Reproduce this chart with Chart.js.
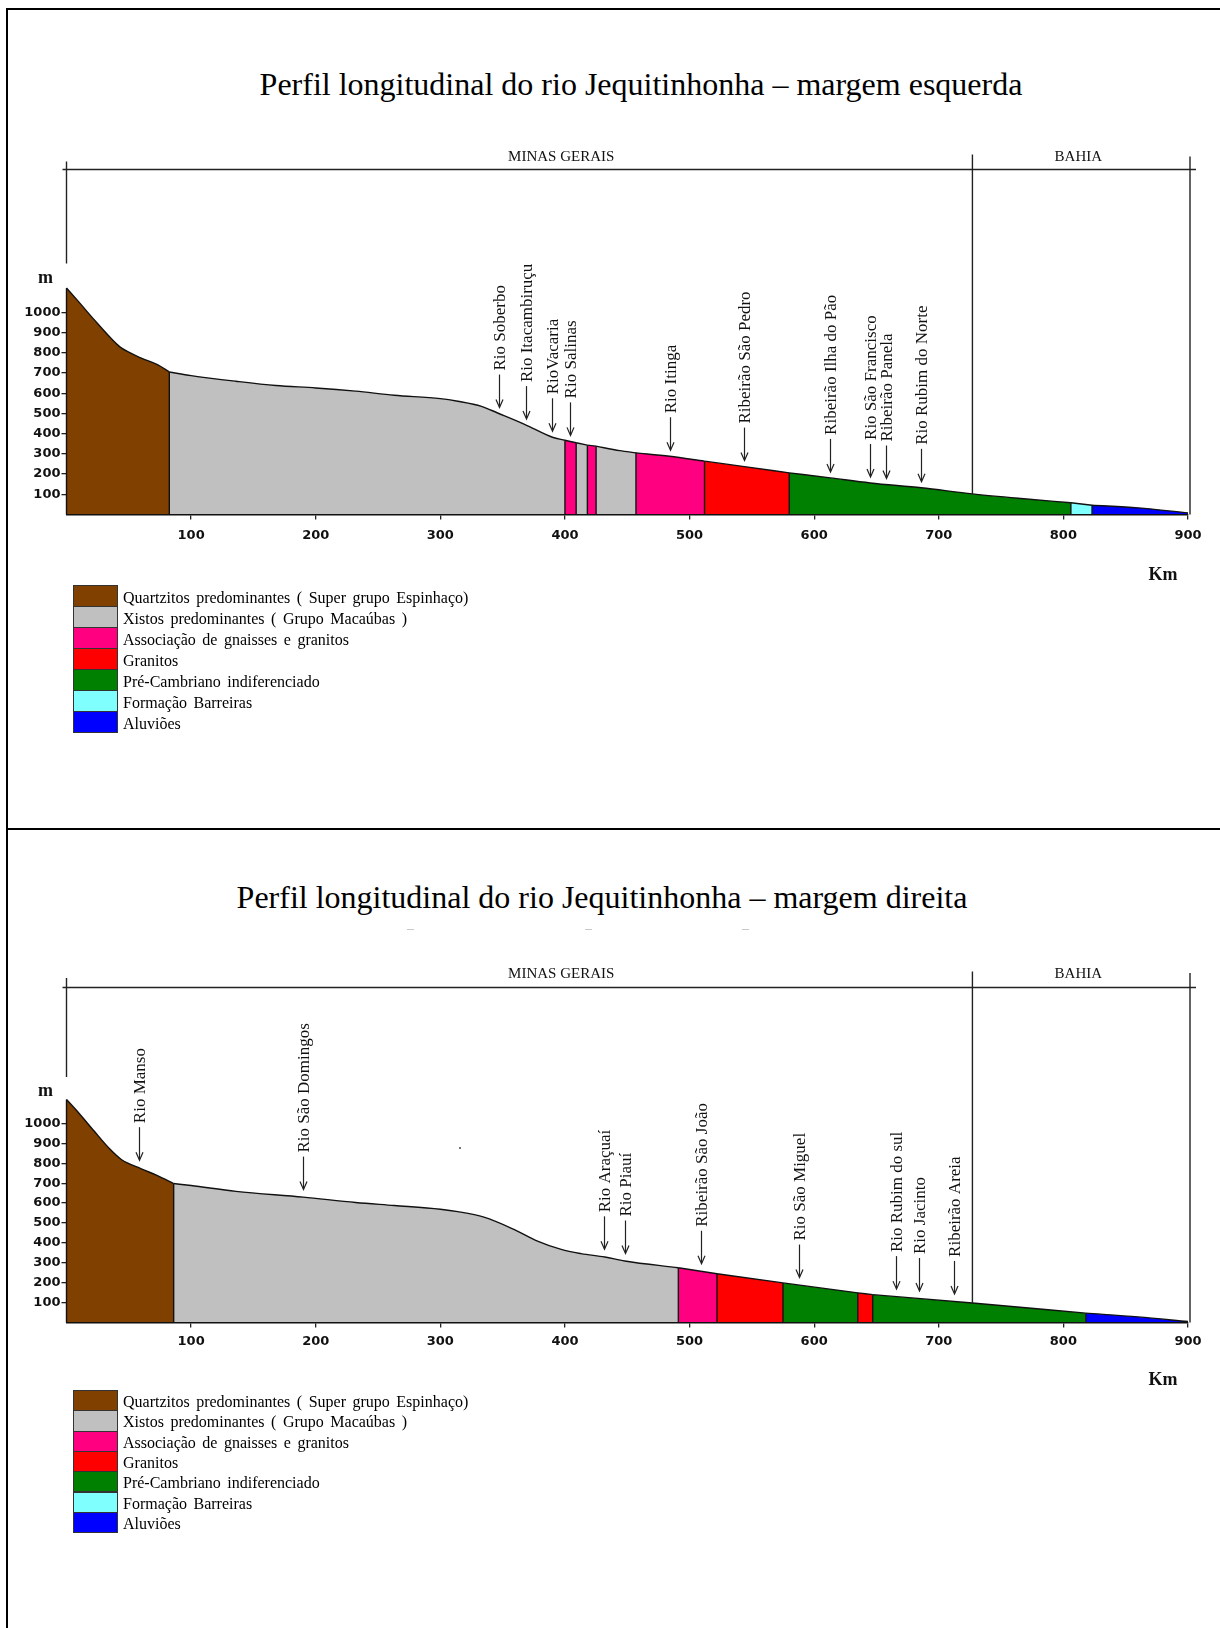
<!DOCTYPE html>
<html lang="pt">
<head>
<meta charset="utf-8">
<title>Perfil longitudinal do rio Jequitinhonha</title>
<script src="https://cdn.jsdelivr.net/npm/chart.js@4.4.1/dist/chart.umd.min.js"></script>
<style>
    html, body { margin: 0; padding: 0; background: #fff; }
    body { position: relative; width: 1220px; height: 1628px; overflow: hidden; font-family: "Liberation Serif", "Times New Roman", serif; color: #000; }
    .rule { position: absolute; background: #000; }
    .title { position: absolute; font-size: 32px; line-height: 32px; white-space: nowrap; transform: translateX(-50%); }
    canvas { position: absolute; left: 0; }
    .legend { position: absolute; left: 73px; }
    .legend-box { position: absolute; left: 0; width: 45px; box-sizing: border-box; border: 1px solid #333; }
    .legend-label { position: absolute; left: 50px; font-size: 16px; word-spacing: 2.5px; white-space: nowrap; display: flex; align-items: center; }
    .speck { position: absolute; background: #c8c8c8; }
</style>
</head>
<body>
<div class="rule" style="left:6px; top:8px; width:1214px; height:2px;"></div>
<div class="rule" style="left:6px; top:8px; width:2px; height:1620px;"></div>
<div class="rule" style="left:6px; top:828px; width:1214px; height:2px;"></div>

<div class="title" style="left:641px; top:68px;">Perfil longitudinal do rio Jequitinhonha – margem esquerda</div>
<div class="title" style="left:602px; top:881px;">Perfil longitudinal do rio Jequitinhonha – margem direita</div>
<div class="speck" style="left:407px; top:929px; width:7px; height:1px;"></div>
<div class="speck" style="left:585px; top:929px; width:7px; height:1px;"></div>
<div class="speck" style="left:742px; top:929px; width:7px; height:1px;"></div>
<div class="speck" style="left:459px; top:1147px; width:2px; height:2px; background:#777;"></div>

<canvas id="chartLeft" width="1220" height="450" style="top:140px;"></canvas>
<canvas id="chartRight" width="1220" height="440" style="top:960px;"></canvas>

<div class="legend" id="legendLeft" style="top:585px;"></div>
<div class="legend" id="legendRight" style="top:1390px;"></div>

<script>
const kmTicks = [100, 200, 300, 400, 500, 600, 700, 800, 900];
const elevTicks = [100, 200, 300, 400, 500, 600, 700, 800, 900, 1000];

const unitNames = [
    'Quartzitos predominantes ( Super grupo Espinhaço)',
    'Xistos predominantes ( Grupo Macaúbas )',
    'Associação de gnaisses e granitos',
    'Granitos',
    'Pré-Cambriano indiferenciado',
    'Formação Barreiras',
    'Aluviões'
];
const unitColors = ['#804000', '#C0C0C0', '#FF0080', '#FF0000', '#008000', '#80FFFF', '#0000FF'];

// margem esquerda
const leftKm = [0, 9.5, 22, 38, 44, 60, 73, 82.5, 100, 136, 168, 200, 232, 263, 300, 314, 333, 346, 368, 390,
    400, 409, 418, 425, 444, 457, 484, 512, 544, 580, 613, 645, 686, 727, 766, 806, 823, 860, 900];
const leftElev = [1120, 1054, 965, 857, 824, 774, 741, 705, 687, 659, 638, 626, 610, 590, 573, 560, 535, 502, 445, 382,
    367, 355, 343, 338, 316, 305, 288, 264, 237, 206, 181, 156, 132, 102, 79, 58, 46, 33, 8];
const leftBounds = [0, 82.5, 400, 409, 418, 425, 457, 512, 580, 806, 823, 900];
const leftUnits = [0, 1, 2, 1, 2, 1, 2, 3, 4, 5, 6];
const leftTribNames = ['Rio Soberbo', 'Rio Itacambiruçu', 'RioVacaria', 'Rio Salinas', 'Rio Itinga',
    'Ribeirão São Pedro', 'Ribeirão Ilha do Pão', 'Rio São Francisco', 'Ribeirão Panela', 'Rio Rubim do Norte'];
const leftTribKm = [347, 369, 390, 404, 484, 544, 613, 645, 658, 686];

// margem direita
const rightKm = [0, 9.5, 22, 35, 44, 60, 73, 86, 100, 136, 190, 232, 263, 300, 314, 335, 359, 378, 397, 413,
    432, 448, 491, 522, 575, 635, 647, 727, 818, 860, 900];
const rightElev = [1120, 1055, 963, 870, 819, 772, 738, 698, 688, 659, 630, 603, 588, 569, 557, 529, 468, 409, 367, 346,
    329, 309, 275, 245, 199, 149, 140, 98, 47, 28, 5];
const rightBounds = [0, 86, 491, 522, 575, 635, 647, 818, 900];
const rightUnits = [0, 1, 2, 3, 4, 3, 4, 6];
const rightTribNames = ['Rio Manso', 'Rio São Domingos', 'Rio Araçuaí', 'Rio Piauí', 'Ribeirão São João',
    'Rio São Miguel', 'Rio Rubim do sul', 'Rio Jacinto', 'Ribeirão Areia'];
const rightTribKm = [58, 190, 431, 448, 509, 588, 666, 684, 712];

const stateBorderKm = 727;
const minasLabelKm = 397;
const bahiaLabelKm = 812;

const tickFont = { family: "'DejaVu Sans', sans-serif", weight: 'bold', size: 13 };

function profileAt(kms, elevs, km) {
    for (let i = 1; i < kms.length; i++) {
        if (km <= kms[i]) {
            const t = (km - kms[i - 1]) / (kms[i] - kms[i - 1]);
            return elevs[i - 1] + t * (elevs[i] - elevs[i - 1]);
        }
    }
    return elevs[elevs.length - 1];
}

function buildDatasets(kms, elevs, bounds, units) {
    const datasets = [];
    units.forEach((unit, i) => {
        const from = bounds[i];
        const to = bounds[i + 1];
        const points = [];
        kms.forEach((km, j) => {
            if (km >= from && km <= to) points.push({ x: km, y: elevs[j] });
        });
        datasets.push({
            data: points,
            backgroundColor: unitColors[unit],
            borderColor: '#111',
            borderWidth: 1.4,
            fill: 'origin',
            pointRadius: 0,
            cubicInterpolationMode: 'monotone',
            clip: false,
            order: 1
        });
    });
    // contatos verticais entre as unidades
    bounds.slice(0, -1).forEach((km) => {
        const j = kms.indexOf(km);
        datasets.push({
            data: [{ x: km, y: 0 }, { x: km, y: elevs[j] }],
            borderColor: '#111',
            borderWidth: 1.4,
            fill: false,
            pointRadius: 0,
            clip: false,
            order: 0
        });
    });
    return datasets;
}

function stroke(ctx, x1, y1, x2, y2) {
    ctx.beginPath();
    ctx.moveTo(x1, y1);
    ctx.lineTo(x2, y2);
    ctx.stroke();
}

function makeDecorPlugin(panel) {
    return {
        id: 'decor',
        afterDatasetsDraw(chart) {
            const { ctx, chartArea } = chart;
            const xs = chart.scales.x;
            const ys = chart.scales.y;
            const base = ys.getPixelForValue(0);
            const left = chartArea.left;
            const right = xs.getPixelForValue(900);
            const f = panel.frame;

            ctx.save();
            ctx.strokeStyle = '#222';
            ctx.lineWidth = 1.4;
            stroke(ctx, left - 4, base - f.top, right + 8, base - f.top);
            stroke(ctx, left, base - f.stubTop, left, base - f.stubBottom);
            const bx = xs.getPixelForValue(stateBorderKm);
            stroke(ctx, bx, base - f.borderTop, bx, ys.getPixelForValue(profileAt(panel.km, panel.elev, stateBorderKm)));
            stroke(ctx, right + 2, base - f.edgeTop, right + 2, base);

            ctx.fillStyle = '#111';
            ctx.textAlign = 'center';
            ctx.textBaseline = 'middle';
            ctx.font = '15px "Liberation Serif"';
            ctx.fillText('MINAS GERAIS', xs.getPixelForValue(minasLabelKm), base - f.stateLabel);
            ctx.fillText('BAHIA', xs.getPixelForValue(bahiaLabelKm), base - f.stateLabel);

            ctx.font = 'bold 18px "Liberation Serif"';
            ctx.fillText('m', left - 21, base - f.unitY);
            ctx.fillText('Km', right - 25, base + f.unitX);

            ctx.font = '17px "Liberation Serif"';
            ctx.lineWidth = 1.2;
            panel.tribNames.forEach((name, i) => {
                const km = panel.tribKm[i];
                const px = Math.round(xs.getPixelForValue(km)) + 0.5;
                const tip = ys.getPixelForValue(profileAt(panel.km, panel.elev, km)) - panel.tipGap;
                const tail = tip - 33;
                stroke(ctx, px, tail, px, tip - 1);
                ctx.beginPath();
                ctx.moveTo(px - 3.5, tip - 8);
                ctx.lineTo(px, tip);
                ctx.lineTo(px + 3.5, tip - 8);
                ctx.stroke();
                ctx.save();
                ctx.translate(px + 1, tail - 4);
                ctx.rotate(-Math.PI / 2);
                ctx.textAlign = 'left';
                ctx.fillText(name, 0, 0);
                ctx.restore();
            });
            ctx.restore();
        }
    };
}

function createProfileChart(canvasId, panel) {
    const canvas = document.getElementById(canvasId);
    return new Chart(canvas.getContext('2d'), {
        type: 'line',
        data: { datasets: buildDatasets(panel.km, panel.elev, panel.bounds, panel.units) },
        options: {
            responsive: false,
            animation: false,
            devicePixelRatio: 1,
            events: [],
            layout: { padding: panel.padding },
            plugins: { legend: { display: false }, tooltip: { enabled: false } },
            scales: {
                x: {
                    type: 'linear',
                    min: 0,
                    max: 900,
                    afterBuildTicks: (scale) => { scale.ticks = kmTicks.map((v) => ({ value: v })); },
                    afterFit: (scale) => { scale.height = 30; },
                    grid: { drawOnChartArea: false, tickLength: 5, color: '#222', lineWidth: 1.3 },
                    border: { display: true, color: '#111', width: 1.5, z: 1 },
                    ticks: { color: '#111', font: tickFont, padding: panel.tickPad, maxRotation: 0, autoSkip: false, callback: (v) => String(v) }
                },
                y: {
                    type: 'linear',
                    min: 0,
                    max: 1150,
                    afterBuildTicks: (scale) => { scale.ticks = elevTicks.map((v) => ({ value: v })); },
                    afterFit: (scale) => { scale.width = 66.5; },
                    grid: { drawOnChartArea: false, tickLength: 5, color: '#222', lineWidth: 1.3 },
                    border: { display: false },
                    ticks: { color: '#111', font: tickFont, padding: 1, callback: (v) => String(v) }
                }
            }
        },
        plugins: [makeDecorPlugin(panel)]
    });
}

function buildLegend(id, rowHeight, textShift) {
    const el = document.getElementById(id);
    el.innerHTML = unitNames.map((name, i) => `
        <div class="legend-box" style="top:${(i * rowHeight).toFixed(1)}px; height:${(rowHeight + 1).toFixed(1)}px; background:${unitColors[i]}"></div>
        <div class="legend-label" style="top:${(i * rowHeight + textShift).toFixed(1)}px; height:${rowHeight.toFixed(1)}px">${name}</div>
    `).join('');
}

createProfileChart('chartLeft', {
    km: leftKm, elev: leftElev, bounds: leftBounds, units: leftUnits,
    tribNames: leftTribNames, tribKm: leftTribKm, tipGap: 6, tickPad: 8,
    padding: { left: 0, right: 32, top: 142, bottom: 45.5 },
    frame: { top: 345, stubTop: 353, stubBottom: 251, borderTop: 360, edgeTop: 358, stateLabel: 357, unitY: 236.5, unitX: 60.5 }
});

createProfileChart('chartRight', {
    km: rightKm, elev: rightElev, bounds: rightBounds, units: rightUnits,
    tribNames: rightTribNames, tribKm: rightTribKm, tipGap: 7.5, tickPad: 6,
    padding: { left: 0, right: 32, top: 133.6, bottom: 47.5 },
    frame: { top: 335, stubTop: 344.5, stubBottom: 245.5, borderTop: 351, edgeTop: 349.5, stateLabel: 348.5, unitY: 231.5, unitX: 57.5 }
});

buildLegend('legendLeft', 20.95, 3);
buildLegend('legendRight', 20.3, 2);
</script>
</body>
</html>
